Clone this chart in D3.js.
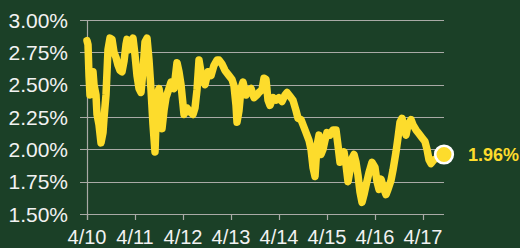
<!DOCTYPE html>
<html>
<head>
<meta charset="utf-8">
<script src="https://cdn.jsdelivr.net/npm/d3@7"></script>
<style>
  html, body { margin: 0; padding: 0; background: #1b4027; }
  svg { display: block; font-family: "Liberation Sans", Arial, sans-serif; }
</style>
</head>
<body>
<div id="viz"></div>
<script>
// hours since 4/10 00:00, and the yield at that time (%)
var hours = [
  0, 0.5, 1, 1.5, 2.5, 3, 3.5, 4.5, 5, 6, 7, 8, 8.5, 9.5, 10.5, 11.5, 12.5, 13.5, 14.5, 15.5,
  16.5, 17.5, 18.5, 19.5, 20, 21, 22, 23, 24, 25, 26, 27, 28, 29, 30, 31, 32, 33, 34, 35,
  36, 37, 37.5, 38.5, 39.5, 41, 42, 43.5, 45, 46, 47, 48.5, 50, 51.5, 53, 54, 55, 56, 57.5, 59,
  60.5, 62, 63.5, 65, 66, 67.5, 69, 71, 72.5, 73.5, 74.5, 75, 76, 77, 78, 79.5, 81, 82, 83.5, 85,
  86, 87.5, 88.5, 89.5, 90.5, 91.5, 93, 94.5, 96, 97.5, 99, 100, 101.5, 103, 104.5, 105.5, 107, 108, 109.5, 111,
  112, 113, 114, 115, 116, 117, 118, 119, 120, 121.5, 123, 124.5, 125.5, 126.5, 127.5, 128.5, 129.5, 130.5, 131.5, 132.5,
  133.5, 134.5, 135.5, 136.5, 137.5, 138.5, 139.5, 141, 142.5, 144, 145, 146, 147, 148.5, 149.5, 150.5, 152, 153, 154.5, 155.5,
  156.5, 157.5, 158.5, 159.5, 160.5, 162, 163, 164.5, 166, 167.5, 169, 170, 171, 172, 173.5, 175, 176.5, 178.5
];
var yields = [
  2.84, 2.81, 2.57, 2.42, 2.47, 2.60, 2.50, 2.42, 2.27, 2.19, 2.05, 2.13, 2.24, 2.42, 2.77, 2.86, 2.85, 2.75, 2.71, 2.65,
  2.61, 2.60, 2.68, 2.81, 2.85, 2.77, 2.83, 2.86, 2.73, 2.57, 2.47, 2.44, 2.61, 2.83, 2.86, 2.69, 2.46, 2.19, 1.98, 2.42,
  2.47, 2.38, 2.16, 2.30, 2.40, 2.47, 2.52, 2.47, 2.67, 2.60, 2.50, 2.27, 2.32, 2.29, 2.27, 2.32, 2.46, 2.69, 2.55, 2.50,
  2.60, 2.57, 2.65, 2.69, 2.69, 2.66, 2.61, 2.57, 2.54, 2.49, 2.34, 2.21, 2.30, 2.47, 2.52, 2.42, 2.46, 2.47, 2.40, 2.42,
  2.44, 2.46, 2.55, 2.54, 2.38, 2.34, 2.40, 2.38, 2.40, 2.37, 2.42, 2.44, 2.41, 2.38, 2.30, 2.24, 2.23, 2.19, 2.13, 2.07,
  2.00, 1.86, 1.79, 2.03, 2.11, 1.96, 2.00, 2.07, 2.13, 2.11, 2.15, 2.15, 2.03, 1.90, 1.92, 1.98, 1.88, 1.75, 1.84, 1.93,
  1.96, 1.90, 1.80, 1.67, 1.59, 1.65, 1.72, 1.82, 1.90, 1.86, 1.75, 1.69, 1.77, 1.69, 1.65, 1.69, 1.76, 1.84, 1.98, 2.09,
  2.21, 2.24, 2.16, 2.11, 2.19, 2.23, 2.19, 2.15, 2.12, 2.09, 2.06, 2.00, 1.92, 1.89, 1.92, 1.93, 1.95, 1.96
];
var dayLabels = ['4/10', '4/11', '4/12', '4/13', '4/14', '4/15', '4/16', '4/17'];
var yTicks = [1.50, 1.75, 2.00, 2.25, 2.50, 2.75, 3.00];

(function () {
    'use strict';

    var width = 520,
        height = 248,
        left = 87,
        right = 444,
        top = 20,
        bottom = 214;

    var data = hours.map(function (h, i) { return { h: h, v: yields[i] }; });

    var x = d3.scaleLinear().domain([0, d3.max(hours)]).range([left, right]),
        y = d3.scaleLinear().domain([1.5, 3.0]).range([bottom, top]);

    var svg = d3.select('#viz').append('svg')
        .attr('width', width)
        .attr('height', height);

    svg.append('rect')
        .attr('width', width)
        .attr('height', height)
        .attr('fill', '#1b4027');

    // horizontal grid + left ticks
    svg.append('g').selectAll('line')
        .data(yTicks)
        .enter().append('line')
        .attr('x1', left - 7)
        .attr('x2', right)
        .attr('y1', function (d) { return Math.round(y(d)) + 0.5; })
        .attr('y2', function (d) { return Math.round(y(d)) + 0.5; })
        .attr('stroke', '#a9aaa6')
        .attr('stroke-width', 1.2);

    svg.append('g').selectAll('text')
        .data(yTicks)
        .enter().append('text')
        .attr('x', 68)
        .attr('y', function (d) { return y(d); })
        .attr('dy', '0.36em')
        .attr('text-anchor', 'end')
        .attr('fill', '#f2f2f2')
        .style('font-size', '21px')
        .text(function (d) { return d3.format('.2f')(d) + '%'; });

    // y axis line
    svg.append('line')
        .attr('x1', left + 0.5).attr('x2', left + 0.5)
        .attr('y1', top).attr('y2', bottom + 6)
        .attr('stroke', '#a9aaa6')
        .attr('stroke-width', 1.2);

    // day ticks and labels
    var days = dayLabels.map(function (d, i) { return { label: d, h: i * 24 }; });

    svg.append('g').selectAll('line')
        .data(days)
        .enter().append('line')
        .attr('x1', function (d) { return Math.round(x(d.h)) + 0.5; })
        .attr('x2', function (d) { return Math.round(x(d.h)) + 0.5; })
        .attr('y1', bottom)
        .attr('y2', bottom + 6)
        .attr('stroke', '#a9aaa6')
        .attr('stroke-width', 1.2);

    svg.append('g').selectAll('text')
        .data(days)
        .enter().append('text')
        .attr('x', function (d) { return x(d.h); })
        .attr('y', 244)
        .attr('text-anchor', 'middle')
        .attr('fill', '#f2f2f2')
        .style('font-size', '20px')
        .text(function (d) { return d.label; });

    var line = d3.line()
        .x(function (d) { return x(d.h); })
        .y(function (d) { return y(d.v); });

    svg.append('path')
        .datum(data)
        .attr('d', line)
        .attr('fill', 'none')
        .attr('stroke', '#fddc2c')
        .attr('stroke-width', 7.5)
        .attr('stroke-linejoin', 'round')
        .attr('stroke-linecap', 'round');

    var last = data[data.length - 1];

    svg.append('circle')
        .attr('cx', x(last.h))
        .attr('cy', y(last.v))
        .attr('r', 8.8)
        .attr('fill', '#fddc2c')
        .attr('stroke', '#ffffff')
        .attr('stroke-width', 2.6);

    svg.append('text')
        .attr('x', x(last.h) + 24)
        .attr('y', y(last.v))
        .attr('dy', '0.36em')
        .attr('fill', '#fddc2c')
        .style('font-size', '18px')
        .style('font-weight', 'bold')
        .text(d3.format('.2f')(last.v) + '%');
})();
</script>
</body>
</html>
